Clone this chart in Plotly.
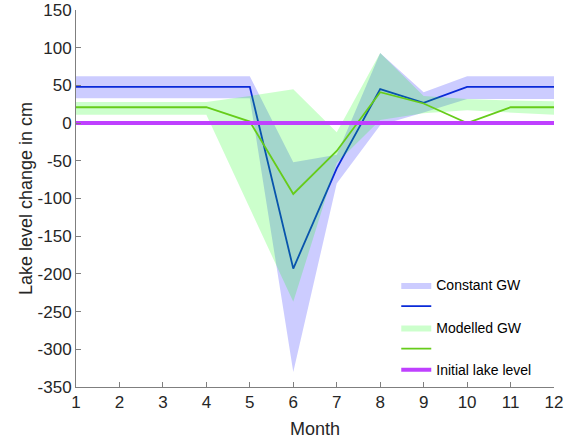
import plotly.graph_objects as go

months = [1, 2, 3, 4, 5, 6, 7, 8, 9, 10, 11, 12]

const_gw_line = [48, 48, 48, 48, 48, -193, -60, 45, 27, 48, 48, 48]
const_gw_upper = [62, 62, 62, 62, 62, -52, -42, 93, 41, 62, 62, 62]
const_gw_lower = [33, 33, 33, 33, 33, -330, -80, -3, 14, 32, 32, 32]

model_gw_line = [21, 21, 21, 21, 2, -94, -37, 41, 26, 0, 21, 21]
model_gw_upper = [28, 28, 28, 28, 36, 45, -12, 93, 36, 32, 30, 29]
model_gw_lower = [11, 11, 11, 11, -113, -237, -53, 4, 13, 17, 14, 11]

initial_level = [0] * 12

x_ticks = months
y_ticks = [-350, -300, -250, -200, -150, -100, -50, 0, 50, 100, 150]
y_tick_labels = ["-350", "-300", "-250", "-200", "-150", "-100", "-50", "0", "50", "100", "150"]

FONT = "Liberation Sans, Arial, Helvetica, sans-serif"

fig = go.Figure()

fig.add_trace(go.Scatter(
    x=months + months[::-1],
    y=const_gw_upper + const_gw_lower[::-1],
    fill="toself", fillcolor="rgba(0,0,255,0.2)",
    line=dict(width=0), mode="lines", name="Constant GW", hoverinfo="skip"))
fig.add_trace(go.Scatter(
    x=months, y=const_gw_line, mode="lines",
    line=dict(color="#0A2AD8", width=1.8), name=" "))
fig.add_trace(go.Scatter(
    x=months + months[::-1],
    y=model_gw_upper + model_gw_lower[::-1],
    fill="toself", fillcolor="rgba(0,255,0,0.2)",
    line=dict(width=0), mode="lines", name="Modelled GW", hoverinfo="skip"))
fig.add_trace(go.Scatter(
    x=months, y=model_gw_line, mode="lines",
    line=dict(color="#66CC1A", width=1.8), name="  "))
fig.add_trace(go.Scatter(
    x=months, y=initial_level, mode="lines",
    line=dict(color="#BF40FF", width=4), name="Initial lake level"))

axis_common = dict(
    showline=True, linecolor="#7f7f7f", linewidth=1,
    ticks="inside", ticklen=5, tickcolor="#7f7f7f",
    showgrid=False, zeroline=False, mirror=False, automargin=False,
    tickfont=dict(family=FONT, size=17, color="#262626"),
)

fig.update_xaxes(range=[1, 12], tickvals=x_ticks,
                 title=dict(text="Month", font=dict(family=FONT, size=18, color="#262626"), standoff=10),
                 **axis_common)
fig.update_yaxes(range=[-350, 150], tickvals=y_ticks, ticktext=y_tick_labels,
                 title=dict(text="Lake level change in cm", font=dict(family=FONT, size=18, color="#262626"), standoff=0),
                 **axis_common)

fig.update_layout(
    width=571, height=442,
    margin=dict(l=76, r=17, t=10, b=55),
    paper_bgcolor="white", plot_bgcolor="white",
    showlegend=True,
    legend=dict(x=0.67, y=0.312, xanchor="left", yanchor="top",
                bgcolor="rgba(255,255,255,0)", borderwidth=0,
                font=dict(family=FONT, size=14, color="#000000"),
                tracegroupgap=0),
)

fig.write_html("out.html",
               config={"displayModeBar": False},
               post_script="document.body.style.margin='0';document.body.style.padding='0';")
